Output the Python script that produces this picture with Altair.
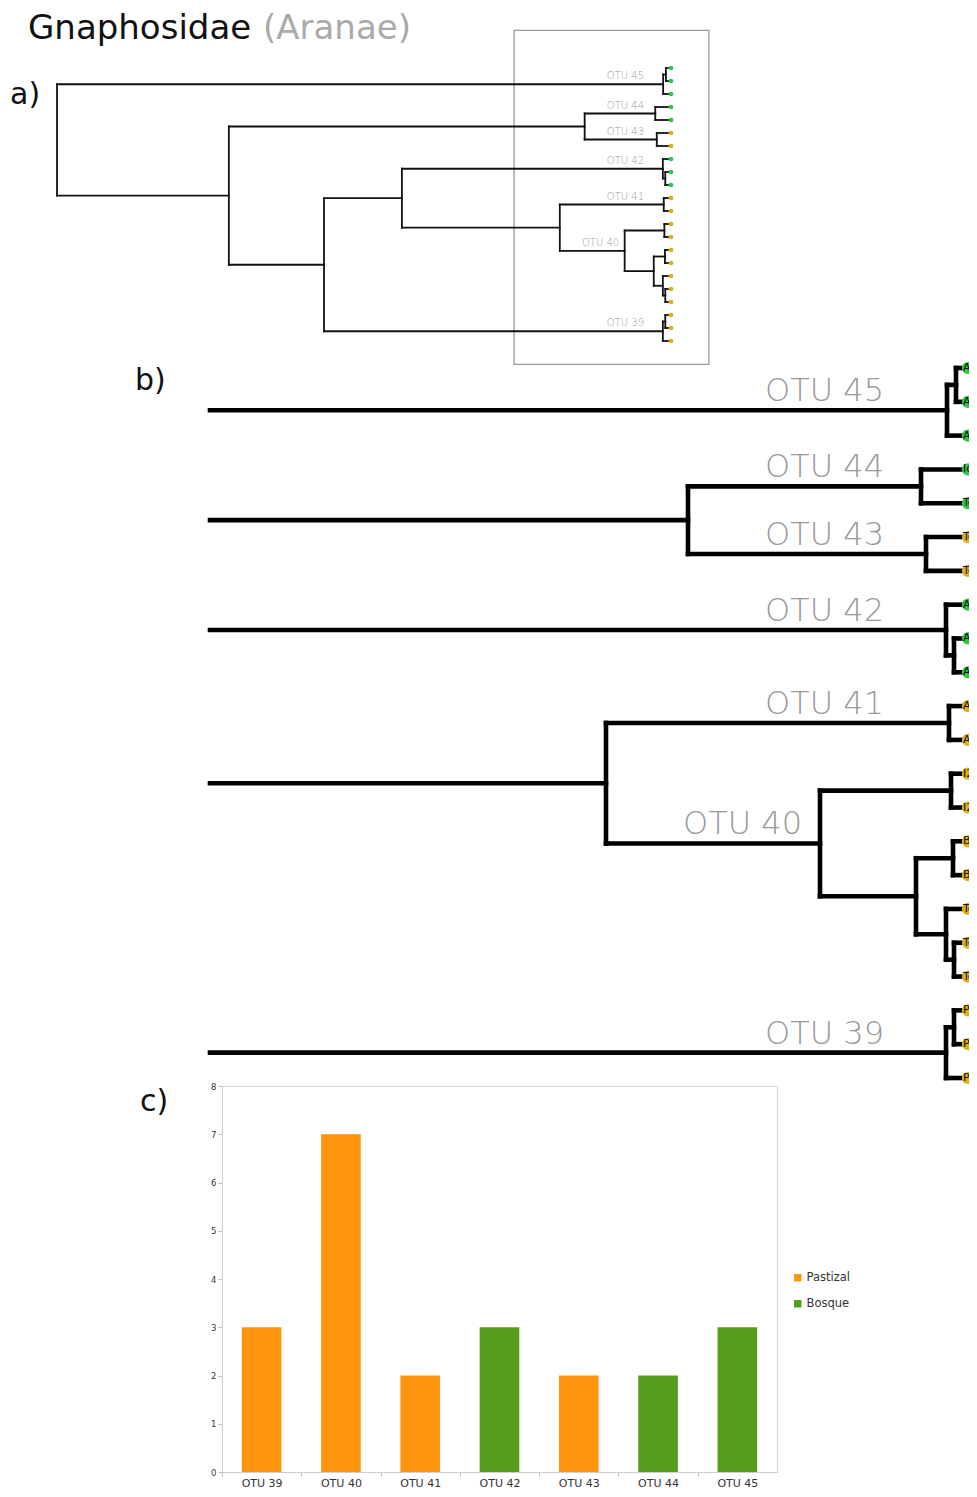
import altair as alt
import pandas as pd

# ---------------- data ----------------
title_main = "Gnaphosidae"
title_group = "(Aranae)"
panel_a, panel_b, panel_c = "a)", "b)", "c)"

# internal nodes of the tree: name, parent, distance from the tips
node_names = ["root", "rest", "cladeX", "cladeY", "c44_43", "c41_40",
              "OTU 45", "n45a", "OTU 44", "OTU 43", "OTU 42", "n42a",
              "OTU 41", "OTU 40", "n40a", "n40b", "n40c", "n40d", "n40e",
              "OTU 39", "n39a"]
node_parents = [None, "root", "rest", "cladeX", "rest", "cladeY",
                "root", "OTU 45", "c44_43", "c44_43", "cladeY", "OTU 42",
                "c41_40", "c41_40", "OTU 40", "OTU 40", "n40b", "n40b", "n40d",
                "cladeX", "OTU 39"]
node_dists = [2016, 1449, 1135, 878, 275, 357,
              16, 7, 42, 37, 17, 9,
              14, 143, 12, 47, 10, 17, 9,
              17, 9]

# leaves (top to bottom)
leaf_codes = ["Ar1", "Ar2", "Ar3", "Ic1", "To1", "To2", "To3",
              "Ar4", "Ar5", "Ar6", "Az1", "Az2", "I21", "I22",
              "Bl1", "Bl2", "To4", "To5", "To6", "Ps1", "Ps2", "Ps3"]
leaf_parents = ["n45a", "n45a", "OTU 45", "OTU 44", "OTU 44", "OTU 43", "OTU 43",
                "OTU 42", "n42a", "n42a", "OTU 41", "OTU 41", "n40a", "n40a",
                "n40c", "n40c", "n40d", "n40e", "n40e", "n39a", "n39a", "OTU 39"]

# bar chart
bar_otus = ["OTU 39", "OTU 40", "OTU 41", "OTU 42", "OTU 43", "OTU 44", "OTU 45"]
bar_counts = [3, 7, 2, 3, 2, 2, 3]
bar_habitat = ["Pastizal", "Pastizal", "Pastizal", "Bosque", "Pastizal", "Bosque", "Bosque"]
habitats = ["Pastizal", "Bosque"]
y_ticks = [0, 1, 2, 3, 4, 5, 6, 7, 8]

# OTU labels: name, distance of right end of label from tips
otu_label_names = ["OTU 45", "OTU 44", "OTU 43", "OTU 42", "OTU 41", "OTU 40", "OTU 39"]
otu_label_dist = [79, 79, 79, 79, 79, 161, 79]

# zoom box of panel a (in tree units) and clipping distance of panel b
zoom_box_dist = [508, -135]
zoom_box_leaf = [-2.9, 22.8]
clip_dist_b = 753
root_dist = 2016

# ---------------- tree layout ----------------
parent = dict(zip(node_names, node_parents))
dist = dict(zip(node_names, node_dists))
leaf_names = [f"leaf{i}" for i in range(len(leaf_codes))]
for n, p in zip(leaf_names, leaf_parents):
    parent[n] = p
    dist[n] = 0
children = {}
for n, p in parent.items():
    if p is not None:
        children.setdefault(p, []).append(n)
ypos = {n: i for i, n in enumerate(leaf_names)}


def gety(n):
    if n in ypos:
        return ypos[n]
    ys = [gety(c) for c in children[n]]
    ypos[n] = (min(ys) + max(ys)) / 2
    return ypos[n]


gety("root")

segs = []
for n, p in parent.items():
    if p is not None:
        segs.append(dict(x1=dist[p], x2=dist[n], y1=ypos[n], y2=ypos[n], d=dist[n]))
for n, ch in children.items():
    ys = [ypos[c] for c in ch]
    segs.append(dict(x1=dist[n], x2=dist[n], y1=min(ys), y2=max(ys), d=dist[n]))
seg_df = pd.DataFrame(segs)
seg_b = seg_df[seg_df.d < clip_dist_b]

hab_of = dict(zip(bar_otus, bar_habitat))


def otu_of(n):
    while n not in hab_of:
        n = parent[n]
    return n


leaf_df = pd.DataFrame({
    "code": leaf_codes,
    "idx": list(range(len(leaf_codes))),
    "d": [0] * len(leaf_codes),
    "habitat": [hab_of[otu_of(n)] for n in leaf_names],
})
otu_df = pd.DataFrame({
    "name": otu_label_names,
    "d": otu_label_dist,
    "y": [ypos[n] for n in otu_label_names],
})
box_df = pd.DataFrame({"x1": [zoom_box_dist[0]], "x2": [zoom_box_dist[1]],
                       "y1": [zoom_box_leaf[0]], "y2": [zoom_box_leaf[1]]})
bar_df = pd.DataFrame({"otu": bar_otus, "count": bar_counts, "habitat": bar_habitat})

# ---------------- layout (page px; view = bar plot area) ----------------
OX, OY = 222, 1086
PW, PH = 555, 386
SVG_W, SVG_H = 961, 1481
FONT = "DejaVu Sans"
tree_green, tree_gold = "#33c34a", "#d9b11f"

xa = alt.Scale(domain=[0, root_dist], range=[668 - OX, 57 - OX], nice=False, zero=False)
ya = alt.Scale(domain=[0, 21], range=[68 - OY, 341 - OY], nice=False, zero=False)
xb = alt.Scale(domain=[0, clip_dist_b], range=[963 - OX, 210 - OX], nice=False,
               zero=False, clamp=True)
yb = alt.Scale(domain=[0, 21], range=[368 - OY, 1078 - OY], nice=False, zero=False)
leaf_color = alt.Scale(domain=habitats, range=[tree_gold, tree_green])

box = alt.Chart(box_df).mark_rect(fillOpacity=0, stroke="#9a9a9a", strokeWidth=1.3).encode(
    x=alt.X("x1:Q", scale=xa, axis=None), x2="x2",
    y=alt.Y("y1:Q", scale=ya, axis=None), y2="y2")

tree_a = alt.Chart(seg_df).mark_rule(color="#111", strokeWidth=1.8, strokeCap="square").encode(
    x=alt.X("x1:Q", scale=xa, axis=None), x2="x2",
    y=alt.Y("y1:Q", scale=ya, axis=None), y2="y2")
dots_a = alt.Chart(leaf_df).mark_circle(size=22, opacity=1, xOffset=3).encode(
    x=alt.X("d:Q", scale=xa, axis=None), y=alt.Y("idx:Q", scale=ya, axis=None),
    color=alt.Color("habitat:N", scale=leaf_color, legend=None))
labels_a = alt.Chart(otu_df).mark_text(align="right", baseline="alphabetic", dy=-5,
                                       font=FONT, fontSize=10, fontWeight=300,
                                       color="#9a9a9a").encode(
    x=alt.X("d:Q", scale=xa, axis=None), y=alt.Y("y:Q", scale=ya, axis=None), text="name:N")

tree_b = alt.Chart(seg_b).mark_rule(color="#000", strokeWidth=4.6, strokeCap="square").encode(
    x=alt.X("x1:Q", scale=xb, axis=None), x2="x2",
    y=alt.Y("y1:Q", scale=yb, axis=None), y2="y2")
dots_b = alt.Chart(leaf_df).mark_circle(size=150, opacity=1, xOffset=5).encode(
    x=alt.X("d:Q", scale=xb, axis=None), y=alt.Y("idx:Q", scale=yb, axis=None),
    color=alt.Color("habitat:N", scale=leaf_color, legend=None))
codes_b = alt.Chart(leaf_df).mark_text(align="left", baseline="middle", dx=0,
                                       font=FONT, fontSize=11, color="#111").encode(
    x=alt.X("d:Q", scale=xb, axis=None), y=alt.Y("idx:Q", scale=yb, axis=None), text="code:N")
labels_b = alt.Chart(otu_df).mark_text(align="right", baseline="alphabetic", dy=-9,
                                       font=FONT, fontSize=32, fontWeight=300,
                                       color="#9a9a9a").encode(
    x=alt.X("d:Q", scale=xb, axis=None), y=alt.Y("y:Q", scale=yb, axis=None), text="name:N")

half_step = PW / len(bar_otus) / 2
bars = alt.Chart(bar_df).mark_bar().encode(
    x=alt.X("otu:N", sort=bar_otus,
            scale=alt.Scale(paddingInner=0.5, paddingOuter=0.25),
            axis=alt.Axis(title=None, orient="bottom", labelAngle=0, labelFont=FONT,
                          labelFontSize=11, labelColor="#333", domainColor="#cfcfcf",
                          tickColor="#bdbdbd", tickSize=4, tickOffset=-half_step,
                          labelOffset=half_step, labelPadding=1)),
    y=alt.Y("count:Q", scale=alt.Scale(domain=[0, 8], nice=False),
            axis=alt.Axis(title=None, orient="left", values=y_ticks, grid=False,
                          labelFont=FONT, labelFontSize=8.5, labelColor="#333",
                          domainColor="#cfcfcf", tickColor="#bdbdbd", tickSize=4,
                          labelPadding=2)),
    color=alt.Color("habitat:N",
                    scale=alt.Scale(domain=habitats, range=["#ff950e", "#579d1c"]),
                    legend=alt.Legend(title=None, orient="none", legendX=792 - OX,
                                      legendY=1272 - OY, symbolType="square",
                                      symbolSize=55, symbolStrokeWidth=0,
                                      labelFont=FONT, labelFontSize=11.5,
                                      labelColor="#333", rowPadding=13, labelOffset=3)))


def note(txt, x, y, size, color):
    return alt.Chart(pd.DataFrame({"t": [txt]})).mark_text(
        align="left", baseline="alphabetic", font=FONT, fontSize=size, color=color
    ).encode(x=alt.value(x - OX), y=alt.value(y - OY), text="t:N")


texts = [
    note(title_main, 28, 39, 34, "#111"),
    note(title_group, 263, 39, 34, "#aaaaaa"),
    note(panel_a, 10, 104, 30, "#111"),
    note(panel_b, 135, 390, 30, "#111"),
    note(panel_c, 140, 1111, 30, "#111"),
]

chart = alt.layer(box, tree_a, dots_a, labels_a, tree_b, dots_b, codes_b, labels_b,
                  bars, *texts).resolve_scale(
    x="independent", y="independent", color="independent"
).properties(
    width=PW, height=PH,
    padding={"left": OX - 8, "top": OY - 8,
             "right": SVG_W - (OX - 8) - PW, "bottom": SVG_H - (OY - 8) - PH},
    autosize=alt.AutoSizeParams(type="none"),
).configure_view(stroke="#d6d6d6", strokeWidth=1)

chart.save("out.html", embed_options={"renderer": "svg", "actions": False})
